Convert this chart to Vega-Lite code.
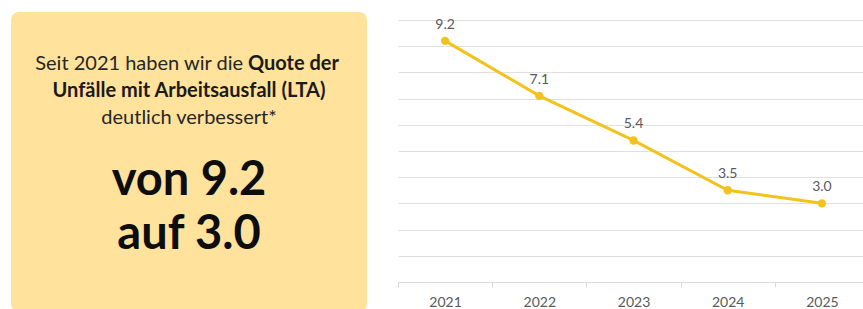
{
  "$schema": "https://vega.github.io/schema/vega-lite/v6.json",
  "padding": {"left": 11, "top": 12, "right": 0, "bottom": 0},
  "background": "#ffffff",
  "spacing": 30,
  "config": {"view": {"stroke": null}, "font": "Lato"},
  "hconcat": [
    {
      "width": 356,
      "height": 300,
      "view": {"fill": "#FFE39C", "cornerRadius": 8, "stroke": null},
      "encoding": {
        "y": {"field": "line", "type": "ordinal", "axis": null,
          "scale": {"type": "point", "padding": 0, "range": [52, 223],
            "domain": ["l1", "g1", "g2", "l2", "g4", "g5", "l3", "g7", "g8", "g9", "g10", "g11", "g12", "l4", "g14", "g15", "g16", "g17", "g18", "l5"]}},
        "text": {"field": "text"}
      },
      "layer": [
        {
          "data": {"values": [{"line": "l1", "text": "Seit 2021 haben wir die"}]},
          "mark": {"type": "text", "align": "right", "baseline": "middle", "fontSize": 20, "color": "#262626", "dx": 54}
        },
        {
          "data": {"values": [{"line": "l1", "text": "Quote der"}]},
          "mark": {"type": "text", "align": "left", "baseline": "middle", "fontSize": 20, "fontWeight": "bold", "color": "#1a1a1a", "dx": 59}
        },
        {
          "data": {"values": [{"line": "l2", "text": "Unfälle mit Arbeitsausfall (LTA)"}]},
          "mark": {"type": "text", "align": "center", "baseline": "middle", "fontSize": 20, "fontWeight": "bold", "color": "#1a1a1a"}
        },
        {
          "data": {"values": [{"line": "l3", "text": "deutlich verbessert*"}]},
          "mark": {"type": "text", "align": "center", "baseline": "middle", "fontSize": 20, "color": "#262626"}
        },
        {
          "data": {"values": [{"line": "l4", "text": "von 9.2"}, {"line": "l5", "text": "auf 3.0"}]},
          "mark": {"type": "text", "align": "center", "baseline": "middle", "fontSize": 47, "fontWeight": "bold", "color": "#0d0d0d"}
        }
      ]
    },
    {
      "width": 471,
      "height": 270,
      "data": {"values": [
        {"year": "2021", "rate": 9.2},
        {"year": "2022", "rate": 7.1},
        {"year": "2023", "rate": 5.4},
        {"year": "2024", "rate": 3.5},
        {"year": "2025", "rate": 3.0}
      ]},
      "encoding": {
        "x": {"field": "year", "type": "ordinal", "title": null, "scale": {"type": "band", "paddingInner": 0, "paddingOuter": 0},
          "axis": {"labelAngle": 0, "labelColor": "#595959", "labelFontSize": 14, "labelPadding": 8, "tickColor": "#D9D9D9", "tickSize": 5, "domainColor": "#D9D9D9", "domainWidth": 1, "tickBand": "extent", "grid": false}},
        "y": {"field": "rate", "type": "quantitative", "title": null, "scale": {"domain": [0, 10.3], "nice": false},
          "axis": {"values": [0, 1, 2, 3, 4, 5, 6, 7, 8, 9, 10], "labels": false, "ticks": false, "domain": false, "grid": true, "gridColor": "#E0E0E0", "gridWidth": 1}}
      },
      "layer": [
        {"mark": {"type": "line", "color": "#F4C21C", "strokeWidth": 3}},
        {"mark": {"type": "point", "filled": true, "color": "#F4C21C", "size": 70, "opacity": 1}},
        {"mark": {"type": "text", "dy": -16, "fontSize": 14, "color": "#595959", "baseline": "middle"}, "encoding": {"text": {"field": "rate", "type": "quantitative", "format": ".1f"}}}
      ]
    }
  ]
}
